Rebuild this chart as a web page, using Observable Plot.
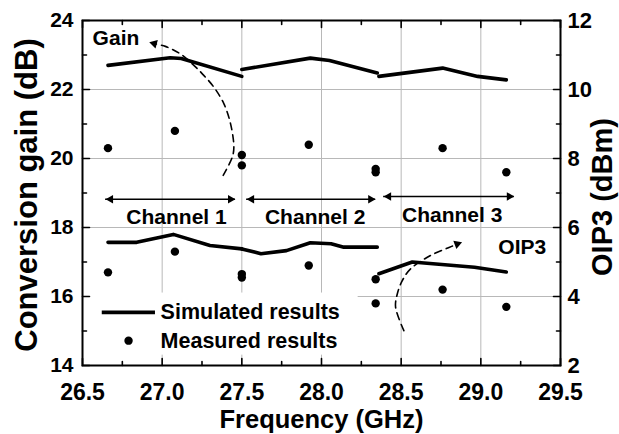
<!DOCTYPE html>
<html>
<head>
<meta charset="utf-8">
<script src="https://cdn.jsdelivr.net/npm/d3@7"></script>
<script src="https://cdn.jsdelivr.net/npm/@observablehq/plot@0.6"></script>
<style>
  html, body { margin: 0; padding: 0; background: #fff; }
  #chart svg { display: block; }
</style>
</head>
<body>
<div id="chart"></div>
<script>
// ---------- axes / ticks ----------
const xTicks = [26.5, 27.0, 27.5, 28.0, 28.5, 29.0, 29.5];
const xMinorTicks = [26.75, 27.25, 27.75, 28.25, 28.75, 29.25];
const xGrid = [27.0, 27.5, 28.0, 28.5, 29.0];
const gainTicks = [14, 16, 18, 20, 22, 24];
const gainMinorTicks = [15, 17, 19, 21, 23];
const gainGrid = [16, 18, 20, 22];
const oip3Ticks = [2, 4, 6, 8, 10, 12];
const oip3Offset = 12; // right axis (dBm) = left axis (dB) - 12

// ---------- measured results ----------
const measFreq = [26.66, 27.08, 27.5, 27.5, 27.92, 28.34, 28.34, 28.76, 29.16];
const measGain = [20.3, 20.8, 20.1, 19.8, 20.4, 19.7, 19.6, 20.3, 19.6];
const measOIP3 = [4.7, 5.3, 4.65, 4.55, 4.9, 4.5, 3.8, 4.2, 3.7];

// ---------- simulated results ----------
const simGainFreq = [26.66, 27.05, 27.12, 27.5, 27.5, 27.93, 28.05, 28.35, 28.36, 28.76, 28.98, 29.16];
const simGain = [22.70, 22.92, 22.90, 22.38, 22.58, 22.91, 22.84, 22.48, 22.38, 22.62, 22.38, 22.28];
const simGainChannel = [1, 1, 1, 1, 2, 2, 2, 2, 3, 3, 3, 3];

const simOIP3Freq = [26.66, 26.84, 27.07, 27.30, 27.5, 27.5, 27.62, 27.78, 27.93, 28.06, 28.14, 28.35, 28.36, 28.57, 28.96, 29.16];
const simOIP3 = [5.57, 5.57, 5.80, 5.48, 5.38, 5.38, 5.24, 5.33, 5.56, 5.53, 5.43, 5.43, 4.66, 5.00, 4.85, 4.71];
const simOIP3Channel = [1, 1, 1, 1, 1, 2, 2, 2, 2, 2, 2, 2, 3, 3, 3, 3];

// ---------- channel annotations ----------
const channelNames = ["Channel 1", "Channel 2", "Channel 3"];
const channelStart = [26.645, 27.53, 28.39];
const channelEnd = [27.46, 28.34, 29.21];
const channelArrowGain = [18.82, 18.82, 18.9];
const channelLabelFreq = [27.09, 27.96, 28.82];
const channelLabelGain = [18.3, 18.3, 18.35];

// ---------- curved arrows ----------
const gainArrowFreq = [27.383, 27.44, 27.45, 27.429, 27.387, 27.324, 27.261, 27.199, 27.115, 27.02, 26.95];
const gainArrowGain = [19.51, 20.04, 20.33, 21.01, 21.59, 22.07, 22.41, 22.70, 23.03, 23.25, 23.33];
const oip3ArrowFreq = [28.517, 28.465, 28.476, 28.507, 28.559, 28.685, 28.80, 28.852];
const oip3ArrowOIP3 = [3.01, 3.69, 4.08, 4.46, 4.80, 5.19, 5.42, 5.52];
const annotLabels = ["Gain", "OIP3"];
const annotFreq = [26.71, 29.26];
const annotGain = [23.48, 17.43];

// ---------- legend ----------
const legendLabels = ["Simulated results", "Measured results"];
const legendTextFreq = 26.99;
const legendTextGain = [15.54, 14.72];
const legendLineFreq = [26.624, 26.958];
const legendDotFreq = 26.789;
const legendBox = {x1: 26.52, x2: 28.23, y1: 14.3, y2: 16.1};

// ---------- tables ----------
const meas = measFreq.map((f, i) => ({freq: f, gain: measGain[i], oip3: measOIP3[i]}));
const simG = simGainFreq.map((f, i) => ({freq: f, value: simGain[i], ch: simGainChannel[i]}));
const simO = simOIP3Freq.map((f, i) => ({freq: f, value: simOIP3[i], ch: simOIP3Channel[i]}));
const channels = channelNames.map((n, i) => ({name: n, x1: channelStart[i], x2: channelEnd[i], y: channelArrowGain[i], lx: channelLabelFreq[i], ly: channelLabelGain[i]}));
const gainArrow = gainArrowFreq.map((f, i) => ({freq: f, y: gainArrowGain[i]}));
const oip3Arrow = oip3ArrowFreq.map((f, i) => ({freq: f, y: oip3ArrowOIP3[i] + oip3Offset}));
const annots = annotLabels.map((t, i) => ({text: t, x: annotFreq[i], y: annotGain[i]}));
const legend = legendLabels.map((t, i) => ({text: t, y: legendTextGain[i]}));

const font = "Arial, 'Liberation Sans', sans-serif";
const ink = "#000";

const chart = Plot.plot({
  width: 619,
  height: 434,
  marginLeft: 82,
  marginRight: 59,
  marginTop: 20,
  marginBottom: 69,
  x: {domain: [26.5, 29.5]},
  y: {domain: [14, 24]},
  style: {fontFamily: font, fontWeight: "bold", background: "#fff", color: ink},
  marks: [
    Plot.gridX(xGrid, {stroke: "#b8b8b8", strokeOpacity: 1, strokeWidth: 1}),
    Plot.gridY(gainGrid, {stroke: "#b8b8b8", strokeOpacity: 1, strokeWidth: 1}),
    Plot.rect([legendBox], {x1: "x1", x2: "x2", y1: "y1", y2: "y2", fill: "#fff"}),

    // simulated lines
    Plot.line(simG, {x: "freq", y: "value", z: "ch", stroke: ink, strokeWidth: 3.6, strokeLinejoin: "round"}),
    Plot.line(simO, {x: "freq", y: d => d.value + oip3Offset, z: "ch", stroke: ink, strokeWidth: 3.6, strokeLinejoin: "round"}),
    // measured points
    Plot.dot(meas, {x: "freq", y: "gain", r: 4.2, fill: ink}),
    Plot.dot(meas, {x: "freq", y: d => d.oip3 + oip3Offset, r: 4.2, fill: ink}),

    // channel arrows
    Plot.ruleY(channels, {x1: "x1", x2: "x2", y: "y", stroke: ink, strokeWidth: 1.6}),
    Plot.dot(channels, {x: "x1", y: "y", symbol: "triangle", rotate: -90, r: 3.2, dx: 5, fill: ink}),
    Plot.dot(channels, {x: "x2", y: "y", symbol: "triangle", rotate: 90, r: 3.2, dx: -5, fill: ink}),
    Plot.text(channels, {x: "lx", y: "ly", text: "name", fontSize: 21, fill: ink}),

    // curved dashed arrows
    Plot.line(gainArrow, {x: "freq", y: "y", curve: "catmull-rom", stroke: ink, strokeWidth: 1.6, strokeDasharray: "7,5"}),
    Plot.dot([gainArrow[gainArrow.length - 1]], {x: "freq", y: "y", symbol: "triangle", rotate: -75, r: 3.3, fill: ink}),
    Plot.line(oip3Arrow, {x: "freq", y: "y", curve: "catmull-rom", stroke: ink, strokeWidth: 1.6, strokeDasharray: "7,5"}),
    Plot.dot([oip3Arrow[oip3Arrow.length - 1]], {x: "freq", y: "y", symbol: "triangle", rotate: 70, r: 3.3, fill: ink}),
    Plot.text(annots, {x: "x", y: "y", text: "text", fontSize: 21, fill: ink}),

    // legend
    Plot.ruleY([legendTextGain[0]], {x1: legendLineFreq[0], x2: legendLineFreq[1], y: d => d, stroke: ink, strokeWidth: 3.6}),
    Plot.dot([legendTextGain[1]], {x: () => legendDotFreq, y: d => d, r: 4.2, fill: ink}),
    Plot.text(legend, {x: () => legendTextFreq, y: "y", text: "text", textAnchor: "start", fontSize: 21.5, fill: ink}),

    // inward ticks
    Plot.vector(xTicks, {x: d => d, frameAnchor: "bottom", anchor: "start", length: 7, rotate: 0, r: 0, stroke: ink, strokeWidth: 1.6}),
    Plot.vector(xMinorTicks, {x: d => d, frameAnchor: "bottom", anchor: "start", length: 4, rotate: 0, r: 0, stroke: ink, strokeWidth: 1.6}),
    Plot.vector(xTicks, {x: d => d, frameAnchor: "top", anchor: "start", length: 7, rotate: 180, r: 0, stroke: ink, strokeWidth: 1.6}),
    Plot.vector(xMinorTicks, {x: d => d, frameAnchor: "top", anchor: "start", length: 4, rotate: 180, r: 0, stroke: ink, strokeWidth: 1.6}),
    Plot.vector(gainTicks, {y: d => d, frameAnchor: "left", anchor: "start", length: 7, rotate: 90, r: 0, stroke: ink, strokeWidth: 1.6}),
    Plot.vector(gainMinorTicks, {y: d => d, frameAnchor: "left", anchor: "start", length: 4, rotate: 90, r: 0, stroke: ink, strokeWidth: 1.6}),
    Plot.vector(gainTicks, {y: d => d, frameAnchor: "right", anchor: "start", length: 7, rotate: -90, r: 0, stroke: ink, strokeWidth: 1.6}),
    Plot.vector(gainMinorTicks, {y: d => d, frameAnchor: "right", anchor: "start", length: 4, rotate: -90, r: 0, stroke: ink, strokeWidth: 1.6}),

    Plot.frame({stroke: ink, strokeWidth: 2}),

    // axes labels
    Plot.axisX(xTicks, {tickSize: 0, tickPadding: 18, fontSize: 23, tickFormat: d3.format(".1f"), label: null, fill: ink}),
    Plot.axisY(gainTicks, {anchor: "left", tickSize: 0, tickPadding: 9, fontSize: 21, label: null, fill: ink}),
    Plot.axisY(oip3Ticks.map(v => v + oip3Offset), {anchor: "right", tickSize: 0, tickPadding: 7, fontSize: 22, tickFormat: v => String(v - oip3Offset), label: null, fill: ink}),

    // axis titles
    Plot.text(["Conversion gain (dB)"], {frameAnchor: "left", dx: -55, dy: 2, rotate: -90, textAnchor: "middle", lineAnchor: "middle", fontSize: 31, fill: ink}),
    Plot.text(["OIP3 (dBm)"], {frameAnchor: "right", dx: 42, dy: 4, rotate: -90, textAnchor: "middle", lineAnchor: "middle", fontSize: 29, fill: ink}),
    Plot.text(["Frequency (GHz)"], {frameAnchor: "bottom", dy: 54, textAnchor: "middle", lineAnchor: "middle", fontSize: 25.5, fill: ink})
  ]
});

document.getElementById("chart").appendChild(chart);
</script>
</body>
</html>
